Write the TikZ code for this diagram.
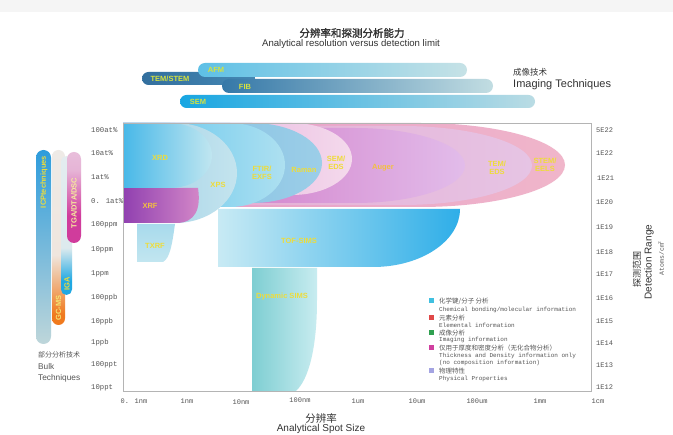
\documentclass[tikz,border=0pt]{standalone}
\usepackage{fontspec}
\setmainfont{Liberation Sans}
\newfontfamily\cjk{Noto Sans CJK SC}
\newfontfamily\cjkb[FakeBold=1.5]{Noto Sans CJK SC}
\newfontfamily\mono{Liberation Mono}
\newcommand\fsz[1]{\fontsize{#1}{#1}\selectfont}
\definecolor{topgrey}{HTML}{F5F5F5}
\definecolor{titc}{HTML}{333333}
\definecolor{axc}{HTML}{555555}
\definecolor{framec}{HTML}{B4B4B4}
\definecolor{labY}{HTML}{EEDC3A}
\definecolor{labO}{HTML}{F2C040}
\definecolor{imgY}{HTML}{D6E23E}
% imaging bars
\definecolor{afmL}{HTML}{5EC0E6}\definecolor{afmR}{HTML}{C6E2E6}
\definecolor{temL}{HTML}{336F9E}\definecolor{temR}{HTML}{4488B4}
\definecolor{fibL}{HTML}{3578A8}\definecolor{fibR}{HTML}{C2DDE2}
\definecolor{semL}{HTML}{18A6E2}\definecolor{semR}{HTML}{BADCE4}
% bulk
\definecolor{icpT}{HTML}{2E9CDC}\definecolor{icpB}{HTML}{BED6DA}
\definecolor{gcO}{HTML}{F07A1E}\definecolor{gcP}{HTML}{EFE6DE}\definecolor{gcT}{HTML}{EDEDED}
\definecolor{igaB}{HTML}{20A8E2}\definecolor{igaP}{HTML}{DDEAEE}\definecolor{igaT}{HTML}{E8EEF0}
\definecolor{tgaB}{HTML}{D03C9C}\definecolor{tgaP}{HTML}{E6B4D6}\definecolor{tgaT}{HTML}{EDD6E6}
% chart
\definecolor{steL}{HTML}{E49AC8}\definecolor{steR}{HTML}{F0B6CA}
\definecolor{tedL}{HTML}{E5A6CE}\definecolor{tedR}{HTML}{E6C4E4}
\definecolor{augL}{HTML}{CC68BE}\definecolor{augR}{HTML}{E2BCEA}
\definecolor{sedL}{HTML}{E2A0D8}\definecolor{sedR}{HTML}{F4DAEC}
\definecolor{ramL}{HTML}{7CBCE0}\definecolor{ramR}{HTML}{9CCEE8}
\definecolor{ftL}{HTML}{5CC4EE}\definecolor{ftR}{HTML}{AEE0F0}
\definecolor{xpsL}{HTML}{9ECFE6}\definecolor{xpsR}{HTML}{C4E4EE}
\definecolor{xrdL}{HTML}{48B8E8}\definecolor{xrdR}{HTML}{C0E6F0}
\definecolor{xrfL}{HTML}{9040B0}\definecolor{xrfR}{HTML}{D488C8}
\definecolor{tofL}{HTML}{C8EAF4}\definecolor{tofR}{HTML}{2EAEE8}
\definecolor{txT}{HTML}{A8DAEC}\definecolor{txB}{HTML}{C2E6F0}
\definecolor{dsL}{HTML}{7ECED2}\definecolor{dsR}{HTML}{C8ECF0}
% legend
\definecolor{lg1}{HTML}{40C0E0}\definecolor{lg2}{HTML}{E04848}
\definecolor{lg3}{HTML}{30A050}\definecolor{lg4}{HTML}{D040A0}
\definecolor{lg5}{HTML}{A4A4E2}
\pgfdeclareverticalshading{gcms}{100bp}{color(0bp)=(gcO); color(28bp)=(gcO); color(45bp)=(gcP); color(100bp)=(gcT)}
\pgfdeclareverticalshading{igash}{100bp}{color(0bp)=(igaB); color(30bp)=(igaB); color(42bp)=(igaP); color(100bp)=(igaT)}
\pgfdeclareverticalshading{tgash}{100bp}{color(0bp)=(tgaB); color(40bp)=(tgaB); color(65bp)=(tgaP); color(100bp)=(tgaT)}
\begin{document}
\begin{tikzpicture}[x=1pt,y=-1pt,
  tlab/.style={font=\bfseries\fsz{7.5}, text=labY, inner sep=0pt, align=center},
  ilab/.style={font=\bfseries\fsz{7.5}, text=imgY, inner sep=0pt},
  blab/.style={font=\bfseries\fsz{7.5}, text=labY, inner sep=0pt, rotate=90},
  ylab/.style={font=\mono\fsz{7.3}, text=axc, inner sep=0pt, anchor=west},
  xlab/.style={font=\mono\fsz{7}, text=axc, inner sep=0pt},
  rlab/.style={font=\mono\fsz{7}, text=axc, inner sep=0pt, anchor=west},
  lgsq/.style={inner sep=0pt, minimum size=5pt},
  lgcn/.style={font=\cjk\fsz{6.5}, text=axc, inner sep=0pt, anchor=west},
  lgen/.style={font=\mono\fsz{6}, text=axc, inner sep=0pt, anchor=west}]
\useasboundingbox (0,0) rectangle (673,435);
\fill[white] (0,0) rectangle (673,435);
\fill[topgrey] (0,0) rectangle (673,12);

% titles
\node[font=\cjkb\fsz{10.5}, text=titc, inner sep=0pt] (title) at (352,33) {分辨率和探测分析能力};
\node[font=\fsz{9.6}, text=titc, inner sep=0pt] (subtitle) at (351,44) {Analytical resolution versus detection limit};

% imaging bars
\shade[left color=temL,right color=temR,rounded corners=6.5pt] (142,72) rectangle (255,85);
\shade[left color=afmL,right color=afmR,rounded corners=7pt] (198,63) rectangle (467,77);
\shade[left color=fibL,right color=fibR,rounded corners=7pt] (222,79) rectangle (493,93);
\shade[left color=semL,right color=semR,rounded corners=6.5pt] (180,95) rectangle (535,108);
\node[ilab] (afm) at (216,70) {AFM};
\node[ilab] (tem) at (170,78.5) {TEM/STEM};
\node[ilab] (fib) at (245,86.5) {FIB};
\node[ilab] (sem) at (198,101.5) {SEM};
\node[font=\cjk\fsz{8.5}, text=titc, inner sep=0pt, anchor=west] (imgcn) at (513,72) {成像技术};
\node[font=\fsz{11}, text=titc, inner sep=0pt, anchor=west] (imgen) at (513,85) {Imaging Techniques};

% bulk bars
\shade[shading=gcms,rounded corners=6.5pt] (52,150) rectangle (65,325);
\shade[shading=igash,rounded corners=5.5pt] (61,156) rectangle (72,295);
\shade[shading=tgash,rounded corners=7pt] (67,152) rectangle (81,243);
\shade[top color=icpT,bottom color=icpB,rounded corners=7.5pt] (36,150) rectangle (51,344);
\node[blab] (icp) at (44,182) {ICPtechniques};
\node[blab, text=labY!70!white] (gc) at (58.5,308) {GC-MS};
\node[blab] (iga) at (67,284) {IGA};
\node[blab, text=labY!50!white] (tga) at (74,203) {TGA/DTA/DSC};
\node[font=\cjk\fsz{7}, text=axc, inner sep=0pt, anchor=west] (bulkcn) at (38,355) {部分分析技术};
\node[font=\fsz{8.3}, text=axc, inner sep=0pt, anchor=west] (bulk1) at (38,366.5) {Bulk};
\node[font=\fsz{8.3}, text=axc, inner sep=0pt, anchor=west] (bulk2) at (38,378) {Techniques};

% chart shapes
\shade[left color=steL,right color=steR] (123,123) -- (420,123) arc[start angle=-90,end angle=90,x radius=145,y radius=42] -- (123,207) -- cycle;
\shade[left color=tedL,right color=tedR] (123,126) -- (402,126) arc[start angle=-90,end angle=90,x radius=130,y radius=39.5] -- (123,205) -- cycle;
\shade[left color=augL,right color=augR] (123,128) -- (355,128) arc[start angle=-90,end angle=90,x radius=110,y radius=37.5] -- (123,203) -- cycle;
\shade[left color=sedL,right color=sedR] (123,123) -- (292,123) arc[start angle=-90,end angle=90,x radius=60,y radius=36] -- (123,195) -- cycle;
\shade[left color=ramL,right color=ramR] (123,123) -- (252,123) arc[start angle=-90,end angle=90,x radius=70,y radius=40] -- (123,203) -- cycle;
\shade[left color=ftL,right color=ftR] (123,123) -- (230,123) arc[start angle=-90,end angle=90,x radius=55,y radius=42] -- (123,207) -- cycle;
\shade[left color=xpsL,right color=xpsR] (123,123) -- (175,123) arc[start angle=-90,end angle=90,x radius=62,y radius=50] -- (123,223) -- cycle;
\shade[left color=xrfL,right color=xrfR] (123,188) -- (198,188) .. controls (201,208) and (196,223) .. (176,223) -- (123,223) -- cycle;
\shade[left color=xrdL,right color=xrdR] (123,123) -- (170,123) arc[start angle=-90,end angle=90,x radius=42,y radius=32.5] -- (123,188) -- cycle;
\shade[left color=tofL,right color=tofR] (218,209) -- (460,209) arc[start angle=0,end angle=90,x radius=87,y radius=58] -- (218,267) -- cycle;
\shade[top color=txT,bottom color=txB] (137,224) -- (175,224) .. controls (172,245) and (170,258) .. (163,262) -- (137,262) -- cycle;
\shade[left color=dsL,right color=dsR] (252,268) -- (317,268) -- (317,300) .. controls (317,350) and (308,380) .. (296,391) -- (252,391) -- cycle;

% frame
\draw[framec, line width=0.7pt] (123,123) rectangle (591,391);

% chart labels
\node[tlab] (xrd) at (160,158) {XRD};
\node[tlab, text=labO] (xrf) at (150,206) {XRF};
\node[tlab] (xps) at (218,185) {XPS};
\node[tlab] (ftir) at (262,173) {FTIR/\\[1pt]EXFS};
\node[tlab] (raman) at (304,170) {Raman};
\node[tlab] (semeds) at (336,163) {SEM/\\[1pt]EDS};
\node[tlab, text=labO] (auger) at (383,168) {Auger};
\node[tlab] (temeds) at (497,168) {TEM/\\[1pt]EDS};
\node[tlab] (steels) at (545,165) {STEM/\\[1pt]EELS};
\node[tlab] (tof) at (299,241) {TOF-SIMS};
\node[tlab] (txrf) at (155,246) {TXRF};
\node[tlab] (dsims) at (282,297) {Dynamic SIMS};

% left axis labels
\node[ylab] (l1) at (91,130) {100at\%};
\node[ylab] (l2) at (91,153) {10at\%};
\node[ylab] (l3) at (91,177) {1at\%};
\node[ylab] (l4) at (91,201) {0. 1at\%};
\node[ylab] (l5) at (91,225) {100ppm};
\node[ylab] (l6) at (91,250) {10ppm};
\node[ylab] (l7) at (91,274) {1ppm};
\node[ylab] (l8) at (91,298) {100ppb};
\node[ylab] (l9) at (91,322) {10ppb};
\node[ylab] (l10) at (91,343) {1ppb};
\node[ylab] (l11) at (91,365) {100ppt};
\node[ylab] (l12) at (91,388) {10ppt};

% right axis labels
\node[rlab] (r1) at (596,130) {5E22};
\node[rlab] (r2) at (596,153) {1E22};
\node[rlab] (r3) at (597,178) {1E21};
\node[rlab] (r4) at (596,202) {1E20};
\node[rlab] (r5) at (596,227) {1E19};
\node[rlab] (r6) at (596,252) {1E18};
\node[rlab] (r7) at (596,274) {1E17};
\node[rlab] (r8) at (596,298) {1E16};
\node[rlab] (r9) at (596,321) {1E15};
\node[rlab] (r10) at (596,343) {1E14};
\node[rlab] (r11) at (596,365) {1E13};
\node[rlab] (r12) at (596,387) {1E12};

% bottom axis labels
\node[xlab] (x1) at (134,401) {0. 1nm};
\node[xlab] (x2) at (187,401) {1nm};
\node[xlab] (x3) at (241,402) {10nm};
\node[xlab] (x4) at (300,400) {100nm};
\node[xlab] (x5) at (358,401) {1um};
\node[xlab] (x6) at (417,401) {10um};
\node[xlab] (x7) at (477,401) {100um};
\node[xlab] (x8) at (540,401) {1mm};
\node[xlab] (x9) at (598,401) {1cm};

% axis titles
\node[font=\cjk\fsz{10.5}, text=titc, inner sep=0pt] (xcn) at (321,418) {分辨率};
\node[font=\fsz{10}, text=titc, inner sep=0pt] (xen) at (321,428.5) {Analytical Spot Size};
\node[font=\cjk\fsz{9}, text=titc, inner sep=0pt, rotate=90] (ycn) at (637,270) {探测范围};
\node[font=\fsz{10}, text=titc, inner sep=0pt, rotate=90] (yen) at (649,262) {Detection Range};
\node[font=\mono\fsz{6.5}, text=axc, inner sep=0pt, rotate=90] (yun) at (661,258) {Atoms/cm\textsuperscript{2}};

% legend
\node[lgsq, fill=lg1] (sq1) at (431,301) {};
\node[lgsq, fill=lg2] (sq2) at (431,318) {};
\node[lgsq, fill=lg3] (sq3) at (431,333) {};
\node[lgsq, fill=lg4] (sq4) at (431,348) {};
\node[lgsq, fill=lg5] (sq5) at (431,371) {};
\node[lgcn] (c1) at (439,301) {化学键/分子 分析};
\node[lgen] (e1) at (439,310) {Chemical bonding/molecular information};
\node[lgcn] (c2) at (439,318) {元素分析};
\node[lgen] (e2) at (439,325) {Elemental information};
\node[lgcn] (c3) at (439,333) {成像分析};
\node[lgen] (e3) at (439,340) {Imaging information};
\node[lgcn] (c4) at (439,348) {仅用于厚度和密度分析（无化合物分析）};
\node[lgen] (e4) at (439,356) {Thickness and Density information only};
\node[lgen] (e4b) at (439,363) {(no composition information)};
\node[lgcn] (c5) at (439,371) {物理特性};
\node[lgen] (e5) at (439,379) {Physical Properties};
\end{tikzpicture}
\end{document}
